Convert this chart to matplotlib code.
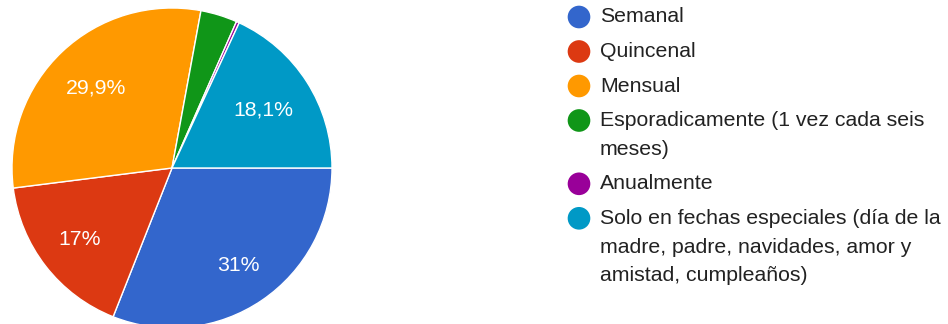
import numpy as np
import matplotlib
matplotlib.use("Agg")
import matplotlib.pyplot as plt

plt.rcParams['font.family'] = ['Liberation Sans', 'DejaVu Sans']

categories = [
    "Semanal",
    "Quincenal",
    "Mensual",
    "Esporadicamente (1 vez cada seis\nmeses)",
    "Anualmente",
    "Solo en fechas especiales (día de la\nmadre, padre, navidades, amor y\namistad, cumpleaños)",
]
values = [31.0, 17.0, 29.9, 3.7, 0.3, 18.1]
pct_labels = ["31%", "17%", "29,9%", "", "", "18,1%"]
colors = ["#3366CC", "#DC3912", "#FF9900", "#109618", "#990099", "#0099C6"]

W, H = 948, 324
fig = plt.figure(figsize=(W / 100, H / 100), dpi=100)

# pie axes: centre (172, 168) px, radius 160 px
cx, cy, r = 172, 168, 160
ax = fig.add_axes([(cx - r) / W, (H - cy - r) / H, 2 * r / W, 2 * r / H])
wedges, _ = ax.pie(values, colors=colors, startangle=0, counterclock=False,
                   radius=1.0, center=(0, 0),
                   wedgeprops=dict(edgecolor="white", linewidth=1.0))
ax.set_xlim(-1, 1)
ax.set_ylim(-1, 1)
ax.set_aspect("equal")
ax.axis("off")

# radial placement of the percentage labels
label_dist = [0.733, 0.73, 0.69, 0.0, 0.0, 0.675]
for w, lab, d in zip(wedges, pct_labels, label_dist):
    if not lab:
        continue
    mid = np.deg2rad((w.theta1 + w.theta2) / 2)
    ax.text(d * np.cos(mid), d * np.sin(mid), lab, color="white",
            fontsize=15.3, ha="center", va="center")

# legend drawn in pixel coordinates
lax = fig.add_axes([0, 0, 1, 1])
lax.set_xlim(0, W)
lax.set_ylim(H, 0)
lax.axis("off")
y = 17
for name, c in zip(categories, colors):
    lax.scatter([579], [y], s=266, color=c, edgecolors="none")
    lines = name.split("\n")
    for i, ln in enumerate(lines):
        lax.text(600, y + i * 28.8, ln, fontsize=15.3, color="#222222",
                 ha="left", va="center")
    y += 34.5 + 28.8 * (len(lines) - 1)

fig.savefig("out.png", dpi=100, facecolor="white")
